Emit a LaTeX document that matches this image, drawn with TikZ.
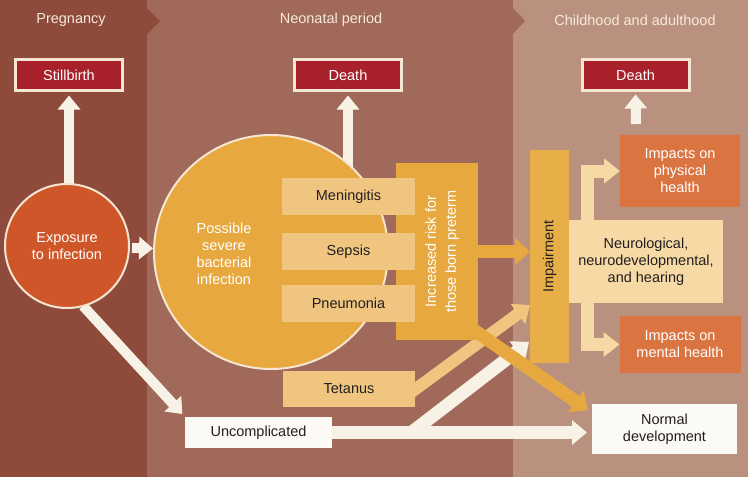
\documentclass[tikz,border=0pt]{standalone}
\usepackage{fontspec}
\setmainfont{Liberation Sans}
\usetikzlibrary{arrows.meta,calc}
\definecolor{preg}{HTML}{8E4B3B}
\definecolor{neon}{HTML}{A0695A}
\definecolor{child}{HTML}{BA917F}
\definecolor{dred}{HTML}{A8212A}
\definecolor{cream}{HTML}{F4E6D2}
\definecolor{expo}{HTML}{CF5628}
\definecolor{gold}{HTML}{E7A93F}
\definecolor{lgold}{HTML}{F0C57F}
\definecolor{impc}{HTML}{E8AE48}
\definecolor{neur}{HTML}{F6D9A4}
\definecolor{impa}{HTML}{DA7441}
\definecolor{wbox}{HTML}{FCFAF5}
\definecolor{warr}{HTML}{F8F1E5}
\definecolor{dtext}{HTML}{231F20}
\definecolor{htext}{HTML}{F5EADC}
\pgfdeclarelayer{bands}
\pgfdeclarelayer{behind}
\pgfsetlayers{bands,behind,main}
\begin{document}
\begin{tikzpicture}[x=1pt,y=-1pt,
  every node/.style={font=\fontsize{14.5}{17}\selectfont, inner sep=0pt, outer sep=0pt, align=center},
  redbox/.style={rectangle, fill=dred, draw=cream, line width=3pt, minimum width=107pt, minimum height=31pt, text=white},
  plainbox/.style={rectangle, fill=#1, minimum width=0pt},
  header/.style={text=htext},
  warrow/.style={draw=warr, line width=10pt, -{Triangle[width=22pt,length=14pt]}},
  uarrow/.style={draw=warr, line width=13pt, -{Triangle[width=24pt,length=15pt]}},
  garrow/.style={draw=gold, line width=13pt, -{Triangle[width=26pt,length=15pt]}},
  larrow/.style={draw=lgold, line width=12pt, -{Triangle[width=24pt,length=15pt]}},
  narrow/.style={draw=neur, line width=13pt, line join=miter, -{Triangle[width=24pt,length=16pt]}}
]
\useasboundingbox (0,0) rectangle (748,477);
% bands
\begin{pgfonlayer}{bands}
\fill[neon] (147,0) rectangle (513,477);
\fill[child] (513,0) rectangle (748,477);
\fill[preg] (0,0) rectangle (147,477);
\fill[preg] (146,7) -- (160,21) -- (146,35) -- cycle;
\fill[neon] (512,7) -- (525,21) -- (512,35) -- cycle;
\end{pgfonlayer}

% headers
\node[header] (hpreg) at (71,20) {Pregnancy};
\node[header] (hneon) at (331,20) {Neonatal period};
\node[header] (hchild) at (635,20) {Childhood and adulthood};

% top boxes
\node[redbox] (still) at (69,75) {Stillbirth};
\node[redbox] (death2) at (348,75) {Death};
\node[redbox] (death3) at (635.5,75) {Death};

% circles
\node[circle, fill=expo, draw=cream, line width=2pt, minimum size=124pt, text=white] (expo) at (67,246) {Exposure\\to infection};
\node[circle, fill=gold, draw=cream, line width=2pt, minimum size=234pt] (sbi) at (271,252) {};
\node[text=white] (sbitxt) at (224,254) {Possible\\severe\\bacterial\\infection};

% increased risk box and infections
\node[plainbox=gold, minimum width=82pt, minimum height=177pt] (irisk) at (437,251.5) {};
\node[plainbox=lgold, minimum width=133pt, minimum height=37pt, text=dtext] (men) at (348.5,196.5) {Meningitis};
\node[plainbox=lgold, minimum width=133pt, minimum height=37pt, text=dtext] (sep) at (348.5,251.5) {Sepsis};
\node[plainbox=lgold, minimum width=133pt, minimum height=37pt, text=dtext] (pne) at (348.5,303.5) {Pneumonia};
\node[plainbox=lgold, minimum width=132pt, minimum height=36pt, text=dtext] (tet) at (349,389) {Tetanus};
\node[plainbox=wbox, minimum width=147pt, minimum height=31pt, text=dtext] (unc) at (258.5,432.5) {Uncomplicated};

% right column
\node[plainbox=impc, minimum width=39pt, minimum height=213pt] (imp) at (549.5,256.5) {};
\node[rotate=90, text=dtext] (imptxt) at (imp.center) {Impairment};
\node[plainbox=neur, minimum width=154pt, minimum height=83pt, text=dtext] (neuro) at (646,261.5) {Neurological,\\neurodevelopmental,\\and hearing};
\node[plainbox=impa, minimum width=120pt, minimum height=72pt, text=white] (phys) at (680,171) {Impacts on\\physical\\health};
\node[plainbox=impa, minimum width=121pt, minimum height=57pt, text=white] (ment) at (680,344.5) {Impacts on\\mental health};
\node[plainbox=wbox, minimum width=145pt, minimum height=50pt, text=dtext] (norm) at (664.5,429) {Normal\\development};

% named free ends
\coordinate (d3s) at (636,124);
\coordinate (brs) at (412,432);
\coordinate (brt) at (529,342);
\coordinate (tets) at (398,402);
\coordinate (tett) at (530,305);
\coordinate (irs) at (444,309);
\coordinate (irt) at (588,410);

% arrows behind
\begin{pgfonlayer}{behind}
\draw[warrow, shorten >=5pt] (still.south |- expo.center) -- (still.south);
\draw[warrow, shorten >=5pt] (death2.south |- sbi.center) -- (death2.south);
\draw[warrow, shorten >=4pt] (expo.-75) -- (unc.north west);
\draw[larrow] (tets) -- (tett);
\end{pgfonlayer}

% arrows in front
\draw[warrow, shorten <=3pt, shorten >=1pt] (expo) -- (sbi);
\draw[warrow, shorten >=4pt] (d3s) -- (death3.south);
\draw[garrow] (irisk.east) -- (irisk.east -| imp.west);
\draw[uarrow] (brs) -- (brt);
\draw[uarrow, shorten >=5pt] (unc.east) -- (unc.east -| norm.west);
\draw[garrow] (irs) -- (irt);
\draw[narrow] ($(neuro.north west)+(18pt,-2pt)$) |- (phys.west);
\draw[narrow] ($(neuro.south west)+(18pt,2pt)$) |- (ment.west);

% rotated label on top
\node[rotate=90, text=white, font=\fontsize{14.5}{20}\selectfont] (irtxt) at (442,251.5) {Increased risk for\\those born preterm};
\end{tikzpicture}
\end{document}
